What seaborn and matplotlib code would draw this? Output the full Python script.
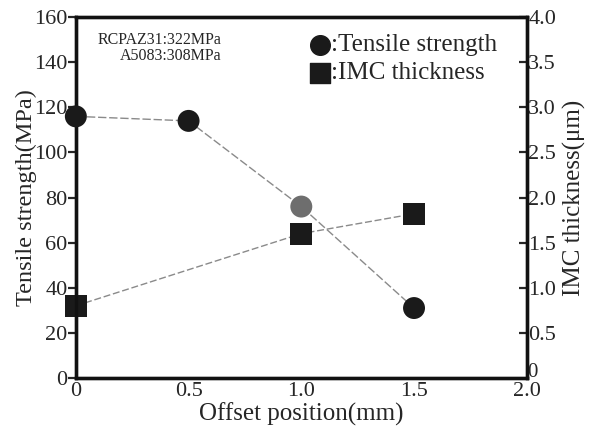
import matplotlib
matplotlib.use('Agg')
import matplotlib.pyplot as plt
import seaborn as sns
import pandas as pd

# data
offset = [0.0, 0.5, 1.0, 1.5]
tensile = [116, 114, 76, 31]          # MPa
offset_imc = [0.0, 1.0, 1.5]
imc = [0.80, 1.60, 1.82]              # um

sns.set_theme(style='white')
plt.rcParams['font.family'] = ['Liberation Serif', 'DejaVu Serif']

df_t = pd.DataFrame({'x': offset, 'y': tensile})
df_i = pd.DataFrame({'x': offset_imc, 'y': imc})

fig = plt.figure(figsize=(6.02, 4.29), dpi=100)
ax = fig.add_axes([0.126, 0.119, 0.749, 0.841])
ax2 = ax.twinx()

# lines
sns.lineplot(data=df_t, x='x', y='y', ax=ax, color='#8a8a8a', lw=1.0,
             linestyle=(0, (6, 2)), zorder=2)
sns.lineplot(data=df_i, x='x', y='y', ax=ax2, color='#8a8a8a', lw=1.0,
             linestyle=(0, (5, 2)), zorder=2)

# markers (the 1.0 mm circle is lighter in the original)
t_colors = ['#1a1a1a', '#1a1a1a', '#6e6e6e', '#1a1a1a']
sns.scatterplot(data=df_t, x='x', y='y', ax=ax, s=250, marker='o',
                c=t_colors, edgecolor='none', zorder=5, clip_on=False)
sns.scatterplot(data=df_i, x='x', y='y', ax=ax2, s=250, marker='s',
                color='#1a1a1a', edgecolor='none', zorder=5, clip_on=False)

ax.set_xlim(0, 2.0)
ax.set_ylim(0, 160)
ax2.set_ylim(0, 4.0)
ax.set_xticks([0, 0.5, 1.0, 1.5, 2.0])
ax.set_xticklabels(['0', '0.5', '1.0', '1.5', '2.0'])
ax.set_yticks(range(0, 161, 20))
ax2.set_yticks([0.5, 1.0, 1.5, 2.0, 2.5, 3.0, 3.5, 4.0])
ax2.set_yticklabels(['0.5', '1.0', '1.5', '2.0', '2.5', '3.0', '3.5', '4.0'])
# right-axis zero sits just above the "2.0" tick label
ax2.text(2.0, 0.06, '0', fontsize=15, ha='left', va='center', clip_on=False)

for a in (ax, ax2):
    for s in a.spines.values():
        s.set_linewidth(2.4)
        s.set_color('#111111')
ax.tick_params(axis='y', direction='out', length=6, width=1.6, labelsize=16, pad=0)
ax.tick_params(axis='x', direction='in', length=6, width=1.6, labelsize=16, pad=3)
ax2.tick_params(axis='y', direction='in', length=6, width=1.6, labelsize=16, pad=1)

ax.set_xlabel('Offset position(mm)', fontsize=18, labelpad=1)
ax.set_ylabel('Tensile strength(MPa)', fontsize=17.5, labelpad=-2)
ax2.set_ylabel('IMC thickness(\u03bcm)', fontsize=18, labelpad=5, rotation=90)

ax.text(0.098, 149.8, 'RCPAZ31:322MPa', fontsize=11.5, ha='left', va='center')
ax.text(0.195, 142.7, 'A5083:308MPa', fontsize=11.5, ha='left', va='center')

# legend drawn as text with markers, like the original
ax.scatter([1.082], [147.6], s=200, marker='o', color='#1a1a1a', clip_on=False, zorder=6)
ax.text(1.13, 147.6, ':Tensile strength', fontsize=18, ha='left', va='center')
ax.scatter([1.082], [135.2], s=190, marker='s', color='#1a1a1a', clip_on=False, zorder=6)
ax.text(1.13, 135.2, ':IMC thickness', fontsize=18, ha='left', va='center')

ax.set_zorder(ax2.get_zorder() + 1)
ax.patch.set_visible(False)

fig.savefig('out.png', dpi=100)
